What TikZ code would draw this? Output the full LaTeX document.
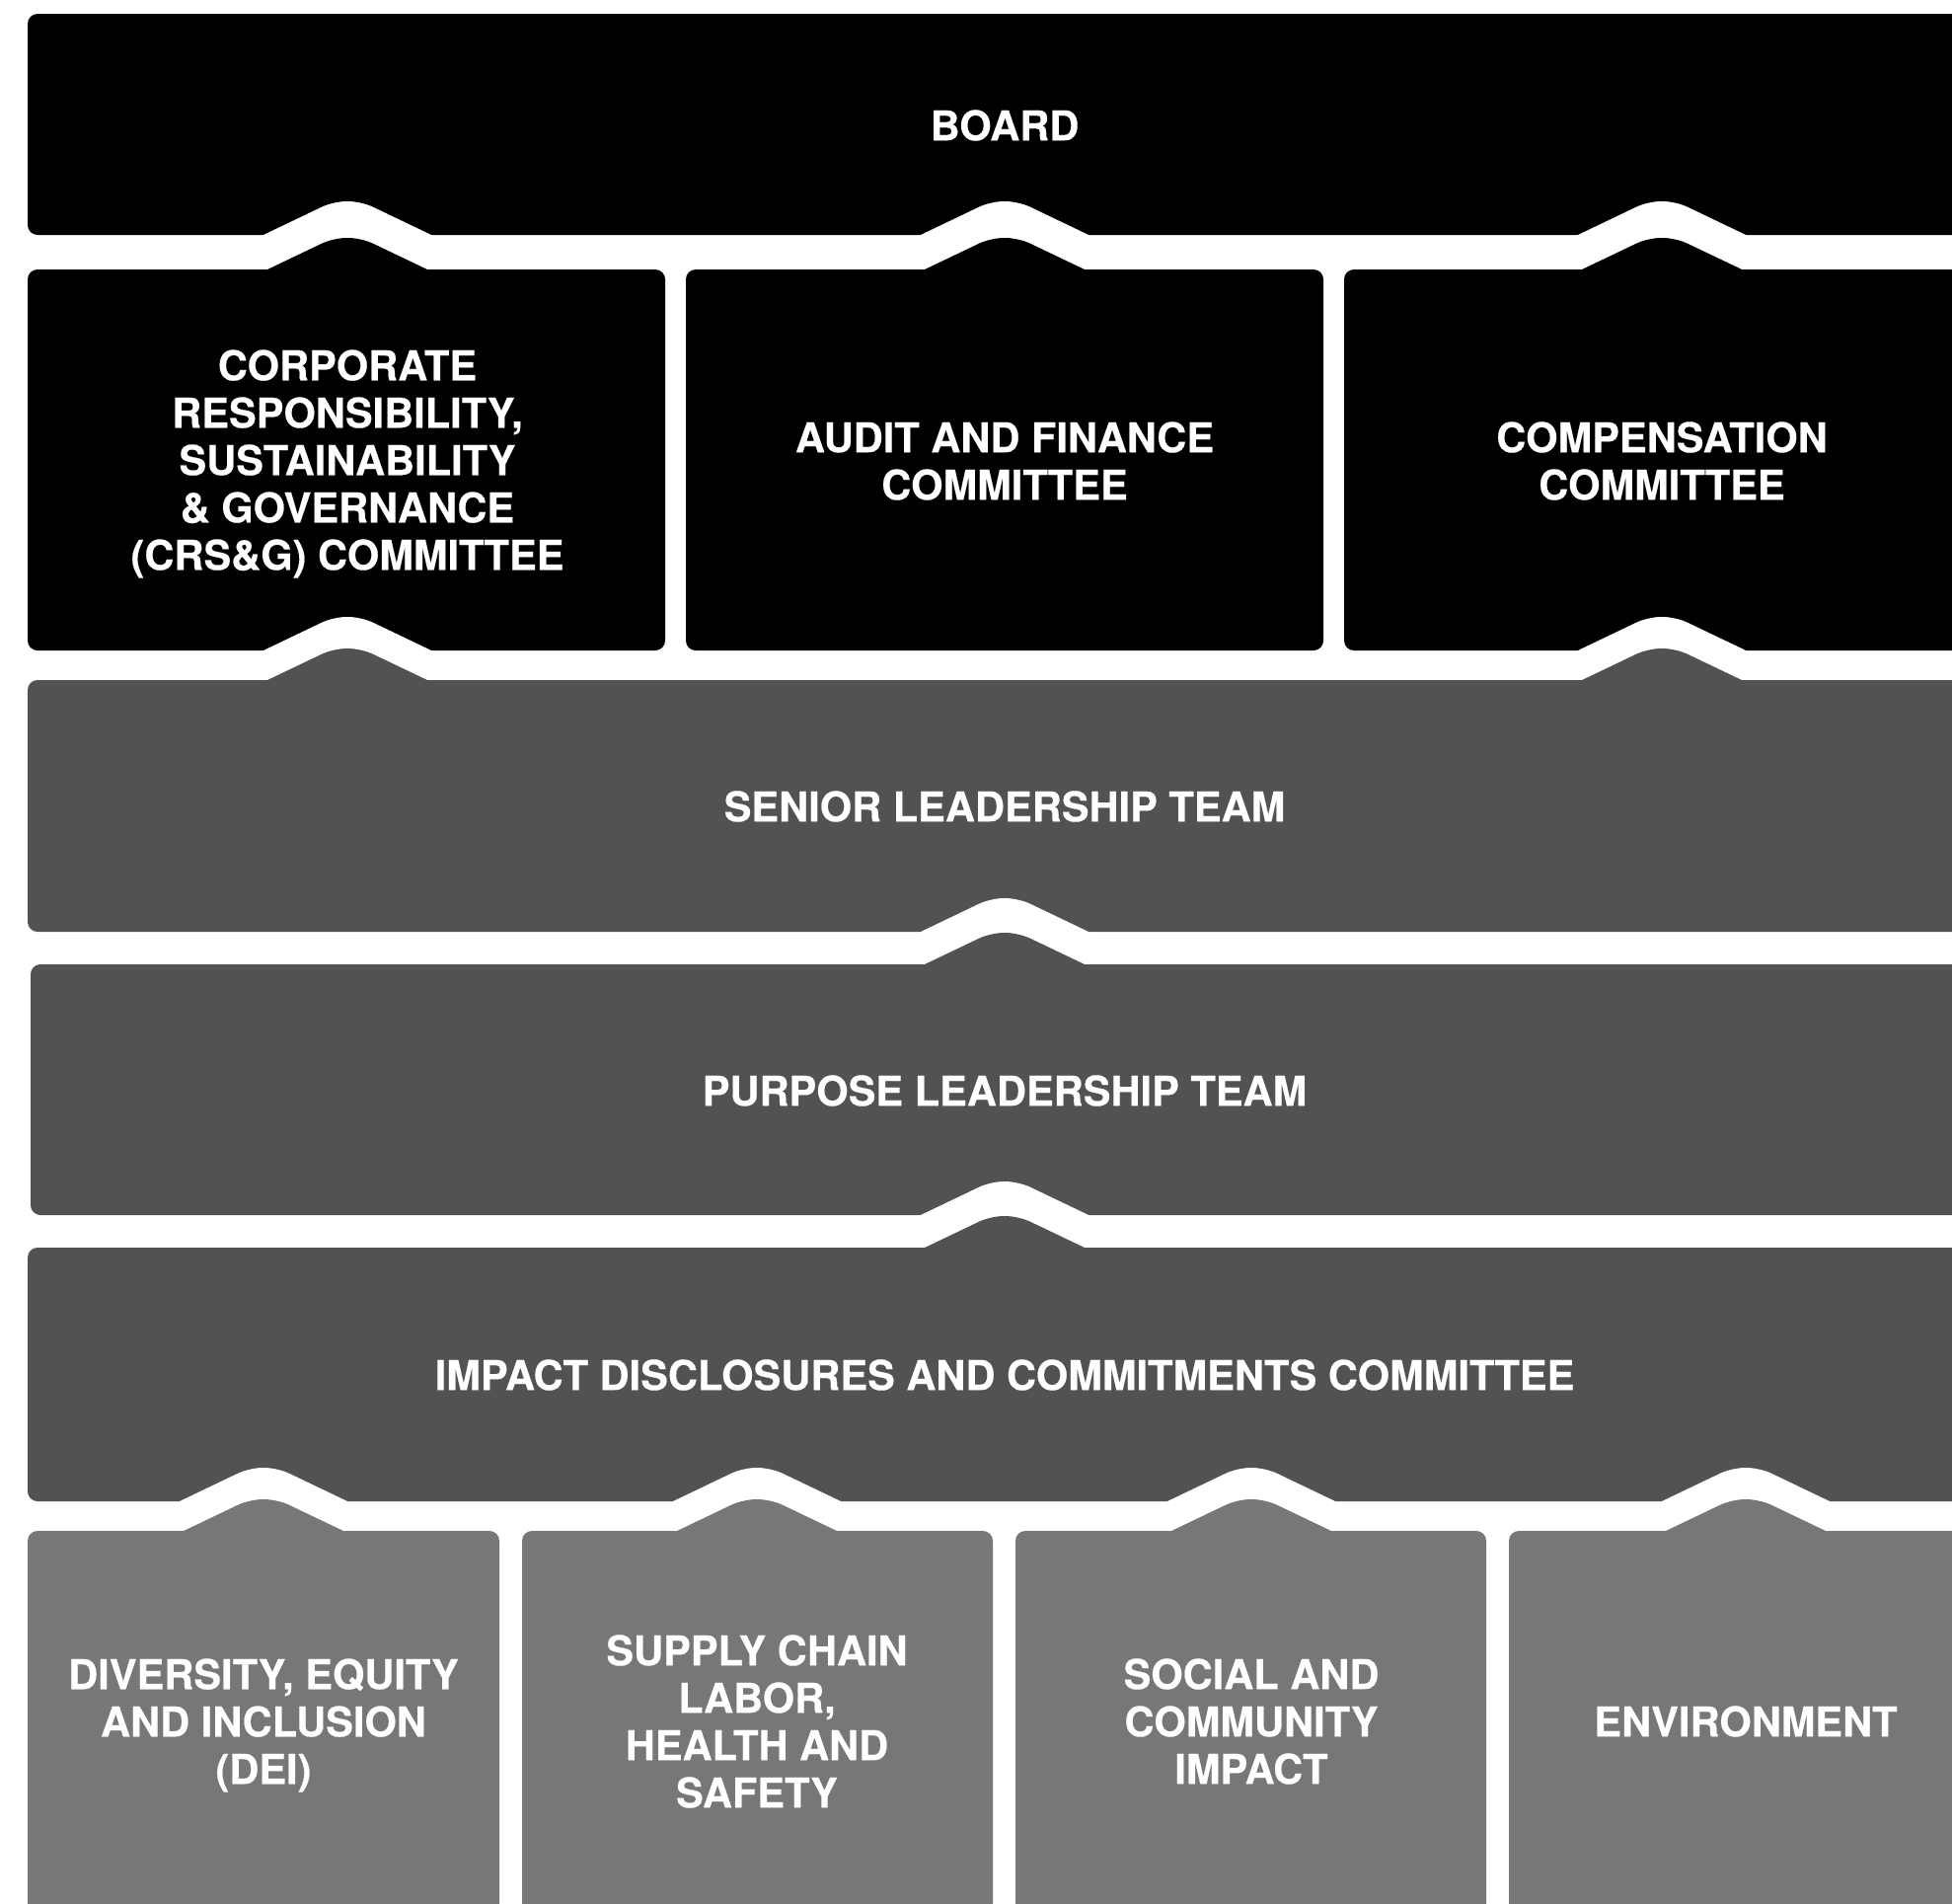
\documentclass[tikz,border=0pt]{standalone}
\usepackage{fontspec}
\setmainfont{TeX Gyre Heros}[BoldFeatures={FakeBold=0.4}]
\definecolor{blk}{HTML}{000000}
\definecolor{dgray}{HTML}{525252}
\definecolor{lgray}{HTML}{777777}
% bump on top of a lower box: centre x, top y of the box
\newcommand\topbump[2]{({#1-127},{#2+22}) -- ({#1-14},{#2-32}) -- ({#1+14},{#2-32}) -- ({#1+127},{#2+22}) -- cycle}
% notch (white) in the bottom of an upper box: centre x, bottom y of the box
\newcommand\botnotch[2]{({#1-131},{#2+22}) -- ({#1-14},{#2-34}) -- ({#1+14},{#2-34}) -- ({#1+131},{#2+22}) -- cycle}
\tikzset{
  boxshape/.style={rounded corners=10pt},
  chev/.style={rounded corners=13pt},
  lbl/.style={text=white, align=center, inner sep=0pt,
    font=\fontsize{41.6}{48}\selectfont\bfseries},
}
\begin{document}
\begin{tikzpicture}[x=1pt,y=-1pt]
\useasboundingbox (0,0) rectangle (1978,1928);
\fill[white] (0,0) rectangle (1978,1928);
\clip (0,0) rectangle (1978,1928);
% ---- boxes
\fill[blk, boxshape] (28,14) rectangle (2100,238);
\fill[blk, boxshape] (28,273) rectangle (674,659);
\fill[blk, boxshape] (695,273) rectangle (1341,659);
\fill[blk, boxshape] (1362,273) rectangle (2100,659);
\fill[dgray, boxshape] (28,689) rectangle (2100,944);
\fill[dgray, boxshape] (31,977) rectangle (2100,1231);
\fill[dgray, boxshape] (28,1264) rectangle (2100,1521);
\fill[lgray, boxshape] (28,1551) rectangle (506,2000);
\fill[lgray, boxshape] (529,1551) rectangle (1006,2000);
\fill[lgray, boxshape] (1029,1551) rectangle (1506,2000);
\fill[lgray, boxshape] (1529,1551) rectangle (2100,2000);
% ---- notches
\fill[white, chev] \botnotch{352}{238};
\fill[white, chev] \botnotch{1018}{238};
\fill[white, chev] \botnotch{1684}{238};
\fill[white, chev] \botnotch{352}{659};
\fill[white, chev] \botnotch{1684}{659};
\fill[white, chev] \botnotch{1018}{944};
\fill[white, chev] \botnotch{1018}{1231};
\fill[white, chev] \botnotch{267}{1521};
\fill[white, chev] \botnotch{767}{1521};
\fill[white, chev] \botnotch{1268}{1521};
\fill[white, chev] \botnotch{1769}{1521};
% ---- bumps
\fill[blk, chev] \topbump{352}{273};
\fill[blk, chev] \topbump{1018}{273};
\fill[blk, chev] \topbump{1684}{273};
\fill[dgray, chev] \topbump{352}{689};
\fill[dgray, chev] \topbump{1684}{689};
\fill[dgray, chev] \topbump{1018}{977};
\fill[dgray, chev] \topbump{1018}{1264};
\fill[lgray, chev] \topbump{267}{1551};
\fill[lgray, chev] \topbump{767}{1551};
\fill[lgray, chev] \topbump{1268}{1551};
\fill[lgray, chev] \topbump{1769}{1551};
% ---- labels
\node[lbl] (board) at (1018,127) {BOARD};
\node[lbl] (crsg) at (352,470) {CORPORATE\\RESPONSIBILITY,\\SUSTAINABILITY\\\& GOVERNANCE\\(CRS\&G) COMMITTEE};
\node[lbl] (audit) at (1018,467) {AUDIT AND FINANCE\\COMMITTEE};
\node[lbl] (comp) at (1684,467) {COMPENSATION\\COMMITTEE};
\node[lbl] (slt) at (1018,817) {SENIOR LEADERSHIP TEAM};
\node[lbl] (plt) at (1018,1105) {PURPOSE LEADERSHIP TEAM};
\node[lbl] (idcc) at (1018,1393) {IMPACT DISCLOSURES AND COMMITMENTS COMMITTEE};
\node[lbl] (dei) at (267,1748) {DIVERSITY, EQUITY\\AND INCLUSION\\(DEI)};
\node[lbl] (supply) at (767,1744) {SUPPLY CHAIN\\LABOR,\\HEALTH AND\\SAFETY};
\node[lbl] (social) at (1268,1744) {SOCIAL AND\\COMMUNITY\\IMPACT};
\node[lbl] (env) at (1769,1744) {ENVIRONMENT};
\end{tikzpicture}
\end{document}
